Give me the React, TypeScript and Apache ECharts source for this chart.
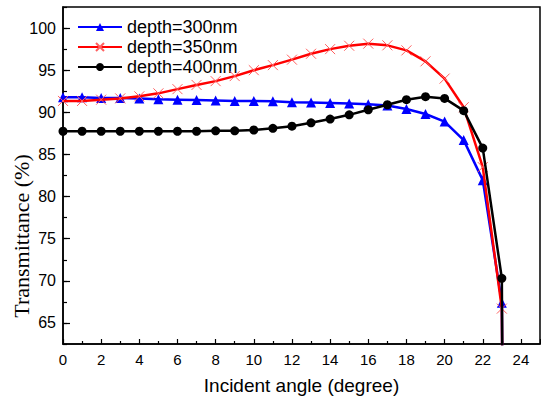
import React, { useEffect, useRef } from "react";
import * as echarts from "echarts";

const angles = [0, 1, 2, 3, 4, 5, 6, 7, 8, 9, 10, 11, 12, 13, 14, 15, 16, 17, 18, 19, 20, 21, 22, 23];
const t300 = [91.8, 91.8, 91.7, 91.7, 91.65, 91.55, 91.5, 91.45, 91.4, 91.35, 91.35, 91.3, 91.2, 91.15, 91.1, 91.05, 90.95, 90.8, 90.4, 89.8, 88.9, 86.7, 81.95, 67.4];
const t350 = [91.35, 91.35, 91.5, 91.65, 91.9, 92.25, 92.75, 93.25, 93.7, 94.3, 95.0, 95.6, 96.25, 96.95, 97.5, 97.9, 98.15, 97.95, 97.35, 96.05, 94.0, 90.6, 83.5, 66.7];
const t400 = [87.75, 87.75, 87.75, 87.75, 87.75, 87.75, 87.75, 87.75, 87.8, 87.8, 87.9, 88.1, 88.35, 88.75, 89.2, 89.7, 90.3, 90.9, 91.5, 91.85, 91.65, 90.2, 85.75, 70.3];
// the curves drop below the axis just after 23 degrees
const tailAngle = 23.08;
const tailValue = 40;
const yMajorTicks = [65, 70, 75, 80, 85, 90, 95, 100];
const seriesNames = ["depth=300nm", "depth=350nm", "depth=400nm"];

const mk = (vals: number[]) => {
  const d: any[] = angles.map((a, i) => [a, vals[i]]);
  d.push({ value: [tailAngle, tailValue], symbol: "none" });
  return d;
};

export default function App() {
  const ref = useRef<HTMLDivElement>(null);
  useEffect(() => {
    const chart = echarts.init(ref.current!, null, { renderer: "svg" });
    const sans = "Liberation Sans, Arial, sans-serif";
    chart.setOption({
      animation: false,
      backgroundColor: "#fff",
      grid: { left: 63, top: 7, right: 1, bottom: 53, show: true, borderColor: "#000", borderWidth: 1.5, backgroundColor: "transparent" },
      legend: {
        orient: "vertical",
        left: 72,
        top: 12,
        itemWidth: 44,
        itemHeight: 10,
        itemGap: 0,
        textStyle: { fontSize: 18, lineHeight: 20, color: "#000", fontFamily: sans },
        data: seriesNames,
      },
      xAxis: {
        type: "value",
        min: 0,
        max: 25,
        interval: 2,
        axisLine: { lineStyle: { color: "#000", width: 1.5 } },
        axisTick: { inside: true, length: 5, lineStyle: { color: "#000", width: 1.2 } },
        minorTick: { show: true, splitNumber: 2, length: 3, lineStyle: { color: "#000", width: 1.2 } },
        splitLine: { show: false },
        axisLabel: { fontSize: 15, color: "#000", fontFamily: sans, margin: 8, showMaxLabel: false },
        name: "Incident angle (degree)",
        nameLocation: "middle",
        nameGap: 32,
        nameTextStyle: { fontSize: 19, color: "#000", fontFamily: sans },
      },
      yAxis: [
        {
          type: "value",
          min: 62.5,
          max: 102.5,
          axisLine: { show: true, lineStyle: { color: "#000", width: 1.5 } },
          axisTick: { show: true, inside: true, length: 7, customValues: yMajorTicks, lineStyle: { color: "#000", width: 1.2 } },
          axisLabel: { fontSize: 16, color: "#000", fontFamily: sans, margin: 7, customValues: yMajorTicks },
          splitLine: { show: false },
        },
        {
          type: "value",
          position: "left",
          min: 62.5,
          max: 102.5,
          interval: 2.5,
          axisLine: { show: false },
          axisTick: { show: true, inside: true, length: 4, lineStyle: { color: "#000", width: 1.2 } },
          axisLabel: { show: false },
          splitLine: { show: false },
        },
      ],
      graphic: [
        {
          type: "text",
          x: 21,
          y: 236,
          rotation: Math.PI / 2,
          style: {
            text: "Transmittance (%)",
            fontSize: 22,
            fontFamily: "Liberation Serif, Times New Roman, serif",
            fill: "#000",
            textAlign: "center",
            textVerticalAlign: "middle",
          },
        },
      ],
      series: [
        {
          name: seriesNames[0],
          type: "line",
          data: mk(t300),
          symbol: "triangle",
          symbolSize: 10,
          lineStyle: { color: "#0000ff", width: 2.5 },
          itemStyle: { color: "#0000ff" },
          z: 3,
        },
        {
          name: seriesNames[1],
          type: "line",
          data: mk(t350),
          symbol: "path://M0,0L10,10M10,0L0,10",
          symbolSize: 10,
          lineStyle: { color: "#ff0000", width: 2.5 },
          itemStyle: { color: "none", borderColor: "#ff6060", borderWidth: 1 },
          z: 4,
        },
        {
          name: seriesNames[2],
          type: "line",
          data: mk(t400),
          symbol: "circle",
          symbolSize: 9,
          lineStyle: { color: "#000", width: 2.5 },
          itemStyle: { color: "#000" },
          z: 5,
        },
      ],
    });
    return () => chart.dispose();
  }, []);
  return <div ref={ref} style={{ width: 541, height: 400, position: "absolute", left: 0, top: 0 }} />;
}
